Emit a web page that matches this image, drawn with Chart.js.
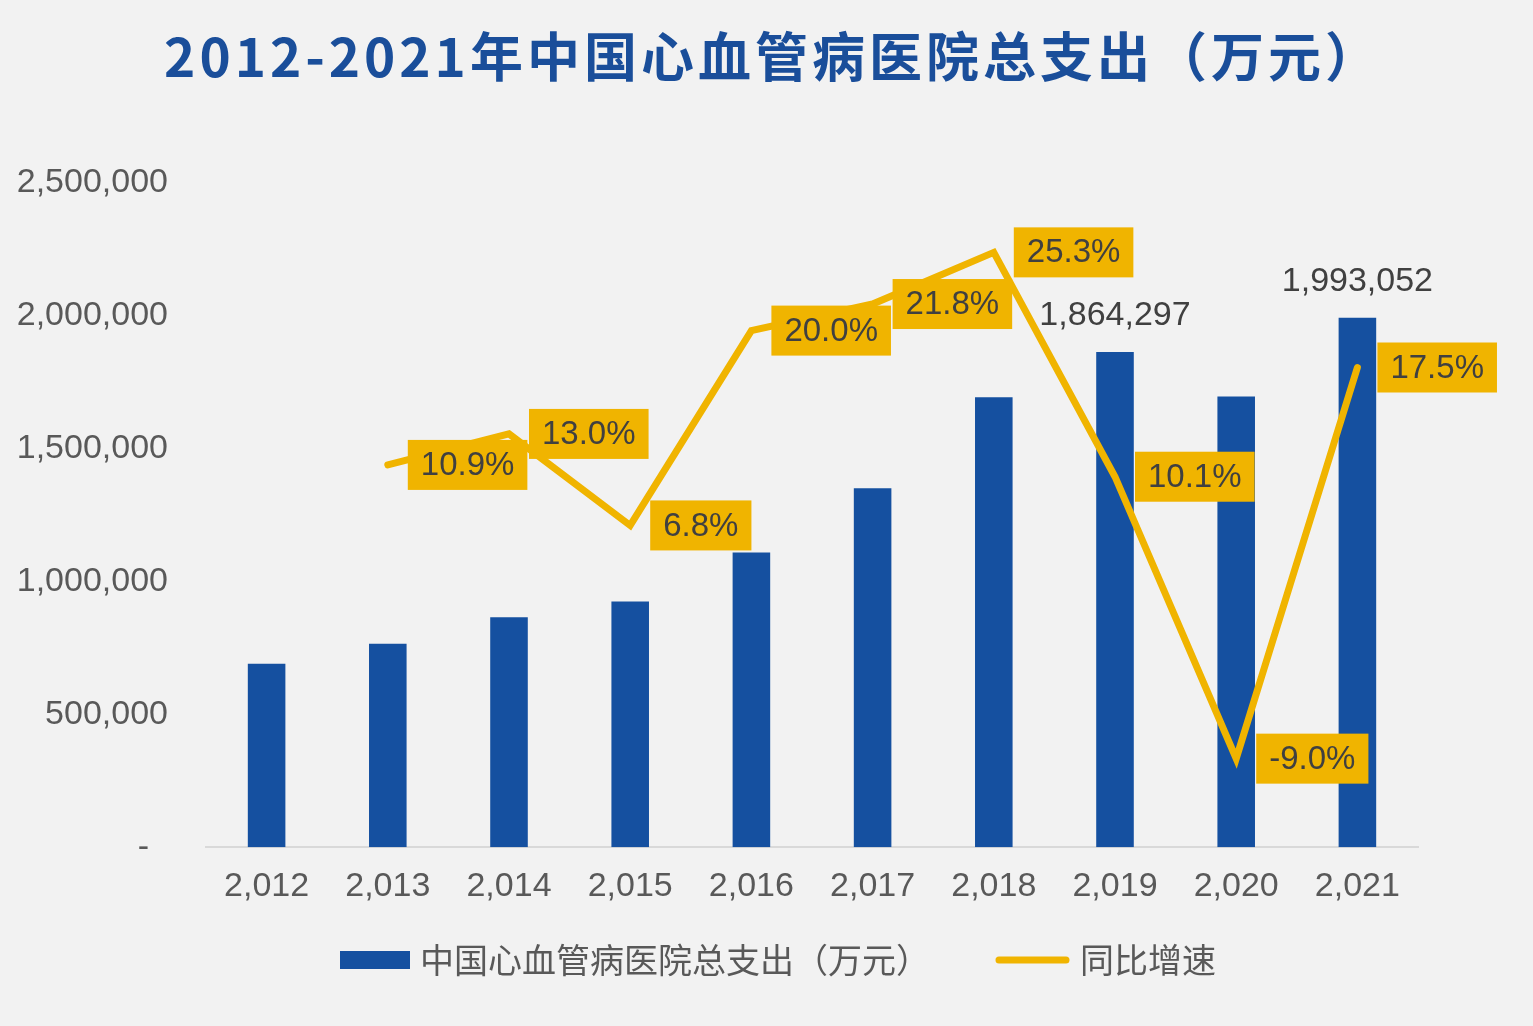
<!DOCTYPE html>
<html>
<head>
<meta charset="utf-8">
<script src="https://cdn.jsdelivr.net/npm/chart.js@4.4.0/dist/chart.umd.min.js"></script>
<style>
  html, body { margin: 0; padding: 0; background: #F2F2F2; }
  #caixa { position: relative; width: 1533px; height: 1026px; }
  #titulo {
    position: absolute; left: 0; top: 16px; width: 1533px; margin: 0;
    padding-left: 13px; box-sizing: border-box;
    text-align: center; line-height: 60px;
    font: bold 53px "Noto Sans CJK SC", sans-serif;
    letter-spacing: 4px; color: #1A4E9A;
  }
  canvas { position: absolute; left: 0; top: 0; }
</style>
</head>
<body>
<div id="caixa">
  <canvas id="grafico" width="1533" height="1026"></canvas>
  <h1 id="titulo">2012-2021年中国心血管病医院总支出（万元）</h1>
</div>
<script>
// dados
const anos = ['2,012', '2,013', '2,014', '2,015', '2,016', '2,017', '2,018', '2,019', '2,020', '2,021'];
const gastoTotal = [690823, 766123, 865719, 924588, 1109505, 1351377, 1693276, 1864297, 1696510, 1993052];
const crescimento = [null, 10.9, 13.0, 6.8, 20.0, 21.8, 25.3, 10.1, -9.0, 17.5];
const anosComRotulo = ['2,019', '2,021'];
const nomeBarras = '中国心血管病医院总支出（万元）';
const nomeLinha = '同比增速';

const AZUL = '#1550A0';
const OURO = '#F0B400';
const fonteNum = '"Liberation Sans", Arial, "Noto Sans CJK SC", sans-serif';

// rótulos das barras e caixas amarelas da linha
const rotulosPlugin = {
  id: 'rotulos',
  afterDatasetsDraw(chart) {
    const ctx = chart.ctx;
    ctx.save();
    ctx.textBaseline = 'middle';

    ctx.font = '34px ' + fonteNum;
    const metaBarras = chart.getDatasetMeta(0);
    metaBarras.data.forEach((barra, i) => {
      if (!anosComRotulo.includes(anos[i])) return;
      ctx.fillStyle = '#404040';
      ctx.textAlign = 'center';
      ctx.fillText(gastoTotal[i].toLocaleString('en-US'), barra.x, barra.y - 36);
    });

    ctx.font = '33px ' + fonteNum;
    const metaLinha = chart.getDatasetMeta(1);
    metaLinha.data.forEach((ponto, i) => {
      const v = crescimento[i];
      if (v === null) return;
      const txt = v.toFixed(1) + '%';
      const larg = ctx.measureText(txt).width + 26;
      const x0 = ponto.x + 20;
      ctx.fillStyle = OURO;
      ctx.fillRect(x0, ponto.y - 25, larg, 50);
      ctx.fillStyle = '#404040';
      ctx.textAlign = 'left';
      ctx.fillText(txt, x0 + 13, ponto.y + 1);
    });
    ctx.restore();
  },
  // legenda desenhada à mão para acertar os espaçamentos
  afterDraw(chart) {
    const ctx = chart.ctx;
    const dsBarra = chart.data.datasets[0];
    const dsLinha = chart.data.datasets[1];
    ctx.save();
    ctx.font = '34px "Noto Sans CJK SC", sans-serif';
    ctx.textBaseline = 'middle';
    ctx.textAlign = 'left';
    const w1 = ctx.measureText(dsBarra.label).width;
    const w2 = ctx.measureText(dsLinha.label).width;
    const total = 70 + 10 + w1 + 65 + 75 + 10 + w2;
    const yc = 960;
    let x = 778 - total / 2;

    ctx.fillStyle = dsBarra.backgroundColor;
    ctx.fillRect(x, yc - 9, 70, 18);
    ctx.fillStyle = '#595959';
    ctx.fillText(dsBarra.label, x + 80, yc);
    x += 80 + w1 + 65;

    ctx.strokeStyle = dsLinha.borderColor;
    ctx.lineWidth = 7;
    ctx.lineCap = 'round';
    ctx.beginPath();
    ctx.moveTo(x + 4, yc);
    ctx.lineTo(x + 71, yc);
    ctx.stroke();
    ctx.fillStyle = '#595959';
    ctx.fillText(dsLinha.label, x + 85, yc);
    ctx.restore();
  }
};

const ctx = document.getElementById('grafico').getContext('2d');
new Chart(ctx, {
  type: 'bar',
  data: {
    labels: anos,
    datasets: [
      {
        type: 'bar',
        label: nomeBarras,
        data: gastoTotal,
        backgroundColor: AZUL,
        barPercentage: 0.31,
        categoryPercentage: 1.0,
        yAxisID: 'y',
        order: 1
      },
      {
        type: 'line',
        label: nomeLinha,
        data: crescimento,
        borderColor: OURO,
        backgroundColor: OURO,
        borderWidth: 7,
        borderCapStyle: 'round',
        borderJoinStyle: 'miter',
        pointRadius: 0,
        tension: 0,
        yAxisID: 'y1',
        order: 0
      }
    ]
  },
  options: {
    responsive: false,
    animation: false,
    layout: { padding: { left: 18, right: 2, top: 183, bottom: 100 } },
    plugins: {
      title: { display: false },
      tooltip: { enabled: false },
      legend: { display: false }
    },
    scales: {
      x: {
        grid: { display: false, drawTicks: false },
        border: { display: true, color: '#D9D9D9', width: 2 },
        ticks: { color: '#595959', font: { size: 34, family: fonteNum }, padding: 19, maxRotation: 0 }
      },
      y: {
        position: 'left',
        min: 0,
        max: 2500000,
        grid: { display: false, drawTicks: false },
        border: { display: false },
        ticks: {
          stepSize: 500000,
          color: '#595959',
          padding: 38,
          font: { size: 34, family: fonteNum },
          callback: (v) => v === 0 ? '-  ' : v.toLocaleString('en-US')
        },
        afterFit: (s) => { s.width = 188; }
      },
      y1: {
        position: 'right',
        min: -15,
        max: 30,
        grid: { display: false, drawTicks: false },
        border: { display: false },
        ticks: { display: false },
        afterFit: (s) => { s.width = 113; }
      }
    }
  },
  plugins: [rotulosPlugin]
});
</script>
</body>
</html>
